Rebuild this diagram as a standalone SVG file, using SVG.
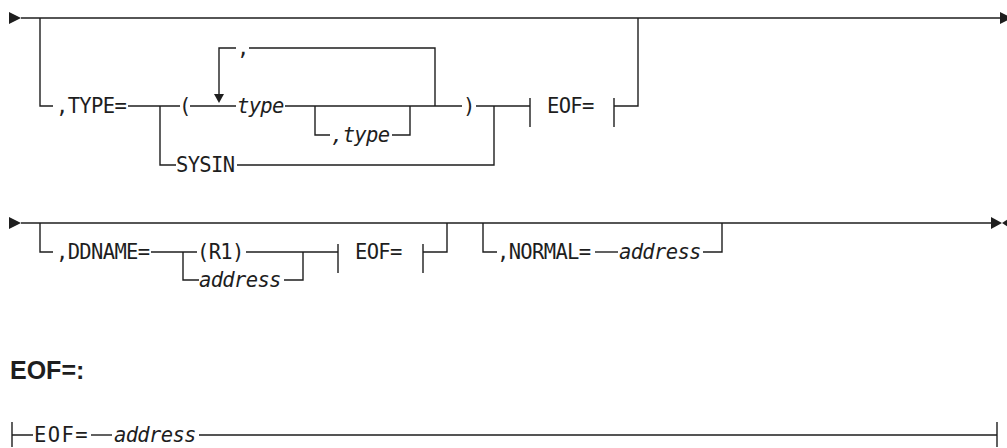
<svg xmlns="http://www.w3.org/2000/svg" width="1007" height="448" viewBox="0 0 1007 448">
<style>
.ln{fill:none;stroke:#1e1e1e;stroke-width:1.4}
.ah{fill:#1e1e1e;stroke:none}
.t{font-family:"DejaVu Sans Mono",monospace;font-size:20.5px;letter-spacing:-0.66px;fill:#1e1e1e}
.i{font-family:"DejaVu Sans Mono",monospace;font-size:20.5px;letter-spacing:-0.66px;font-style:italic;fill:#1e1e1e}
.h{font-family:"Liberation Sans",Arial,sans-serif;font-size:25px;font-weight:bold;fill:#1e1e1e}
</style>
<rect width="1007" height="448" fill="#ffffff"/>
<g id="connectors">
<path class="ln" d="M21 18 H1001"/>
<path class="ln" d="M40 18 V106 H53"/>
<path class="ln" d="M128 106 H180"/>
<path class="ln" d="M160 106 V165 H176"/>
<path class="ln" d="M190 106 H236"/>
<path class="ln" d="M219 96 V48 H236"/>
<path class="ln" d="M249 48 H435 V106"/>
<path class="ln" d="M285 106 H462"/>
<path class="ln" d="M315 106 V135 H330"/>
<path class="ln" d="M392 135 H410 V106"/>
<path class="ln" d="M476 106 H530"/>
<path class="ln" d="M237 165 H494 V106"/>
<path class="ln" d="M530 98 V127"/>
<path class="ln" d="M614 98 V127 M614 106 H638 V18"/>
<path class="ln" d="M21 223 H992"/>
<path class="ln" d="M40 223 V252 H53"/>
<path class="ln" d="M151 252 H197"/>
<path class="ln" d="M183 252 V280 H199"/>
<path class="ln" d="M246 252 H338"/>
<path class="ln" d="M284 280 H303 V252"/>
<path class="ln" d="M338 244 V273"/>
<path class="ln" d="M423 244 V273 M423 252 H447 V223"/>
<path class="ln" d="M483 223 V252 H497"/>
<path class="ln" d="M595 252 H618"/>
<path class="ln" d="M703 252 H722 V223"/>
<path class="ln" d="M12 422 V447 M12 435 H33"/>
<path class="ln" d="M91 435 H112"/>
<path class="ln" d="M199 435 H997 M997 422 V447"/>
<polygon class="ah" points="9,12 21,18 9,24"/>
<polygon class="ah" points="1000,12 1012,18 1000,24"/>
<polygon class="ah" points="214,94 224,94 219,103"/>
<polygon class="ah" points="9,217 21,223 9,229"/>
<polygon class="ah" points="991,217 1002,223 991,229"/>
<polygon class="ah" points="1011,217 1002,223 1011,229"/>
</g>
<g id="type-kw"><text class="t" x="56" y="113">,TYPE=</text></g>
<g id="lparen"><text class="t" x="179" y="113">(</text></g>
<g id="type1"><text class="i" x="237" y="113">type</text></g>
<g id="rep-comma"><text class="t" x="237" y="55">,</text></g>
<g id="type2"><text class="i" x="331" y="142">,type</text></g>
<g id="rparen"><text class="t" x="463" y="113">)</text></g>
<g id="sysin"><text class="t" x="176" y="172">SYSIN</text></g>
<g id="eof-ref1"><text class="t" x="547" y="113">EOF=</text></g>
<g id="ddname-kw"><text class="t" x="56" y="259">,DDNAME=</text></g>
<g id="r1"><text class="t" x="197" y="259">(R1)</text></g>
<g id="addr1"><text class="i" x="199" y="287">address</text></g>
<g id="eof-ref2"><text class="t" x="355" y="259">EOF=</text></g>
<g id="normal-kw"><text class="t" x="497" y="259">,NORMAL=</text></g>
<g id="addr2"><text class="i" x="619" y="259">address</text></g>
<g id="eof-heading"><text class="h" x="10" y="379">EOF=:</text></g>
<g id="eof-frag"><text class="t" x="34" y="442" textLength="53" lengthAdjust="spacing">EOF=</text></g>
<g id="addr3"><text class="i" x="114" y="442">address</text></g>
</svg>
